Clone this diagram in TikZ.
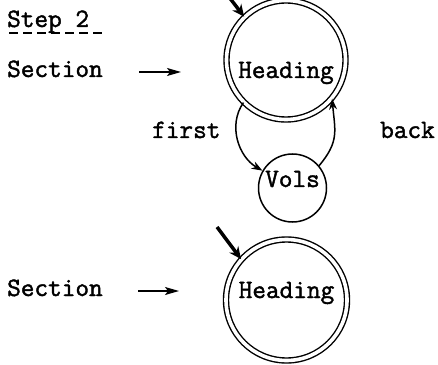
\documentclass[tikz,border=0pt]{standalone}
\usepackage{fontspec}
\usetikzlibrary{arrows.meta}
\newfontfamily\typer{Latin Modern Mono}[FakeBold=1.6]
\begin{document}
\begin{tikzpicture}[x=1pt,y=1pt,
  lbl/.style={font=\fontsize{26.5}{30}\selectfont\typer, inner sep=0pt},
  ring/.style={circle, draw, line width=1.4pt, double, double distance=3.6pt, minimum size=119pt, inner sep=0pt},
  plainstate/.style={circle, draw, line width=1.5pt, minimum size=68pt, inner sep=0pt},
  trans/.style={line width=1.5pt, -{Stealth[length=11pt,width=8pt]}},
  entry/.style={line width=3.5pt, -{Stealth[length=12pt,width=11pt]}},
  feed/.style={line width=1.4pt, -{Stealth[length=14pt,width=8pt,inset=3pt]}}]
\useasboundingbox (0,0) rectangle (438,364);

% heading
\node[lbl, anchor=base west] (step) at (7,337) {Step 2};
\draw[line width=1.4pt, dash pattern=on 9pt off 5pt] (9,331) -- (103,331);

% first automaton
\node[ring] (h1) at (286,304) {};
\node[lbl, anchor=base] (t1) at (286,286) {Heading};
\node[plainstate] (v) at (292.5,176) {};
\node[lbl, anchor=base] (tv) at (292.5,177) {Vols};

\node[lbl, anchor=base west] (sec1) at (7,287) {Section};
\coordinate (a1) at (139,292);
\coordinate (b1) at (181,292);
\draw[feed] (a1) -- (b1);

\coordinate (s1) at (229,367);
\draw[entry] (s1) -- (h1.134);

\draw[trans] (h1.-135) to[out=235, in=150] (v.150);
\draw[trans] (v.40) to[out=50, in=-85, looseness=1.2] (h1.-40);
\node[lbl, anchor=base west] (first) at (152,226) {first};
\node[lbl, anchor=base west] (back) at (380,226) {back};

% second automaton
\node[ring, minimum size=121pt] (h2) at (286.5,64) {};
\node[lbl, anchor=base] (t2) at (286.5,66) {Heading};

\node[lbl, anchor=base west] (sec2) at (7,68) {Section};
\coordinate (a2) at (138,73);
\coordinate (b2) at (179,73);
\draw[feed] (a2) -- (b2);

\coordinate (s2) at (217,137);
\draw[entry] (s2) -- (h2.138);
\end{tikzpicture}
\end{document}
